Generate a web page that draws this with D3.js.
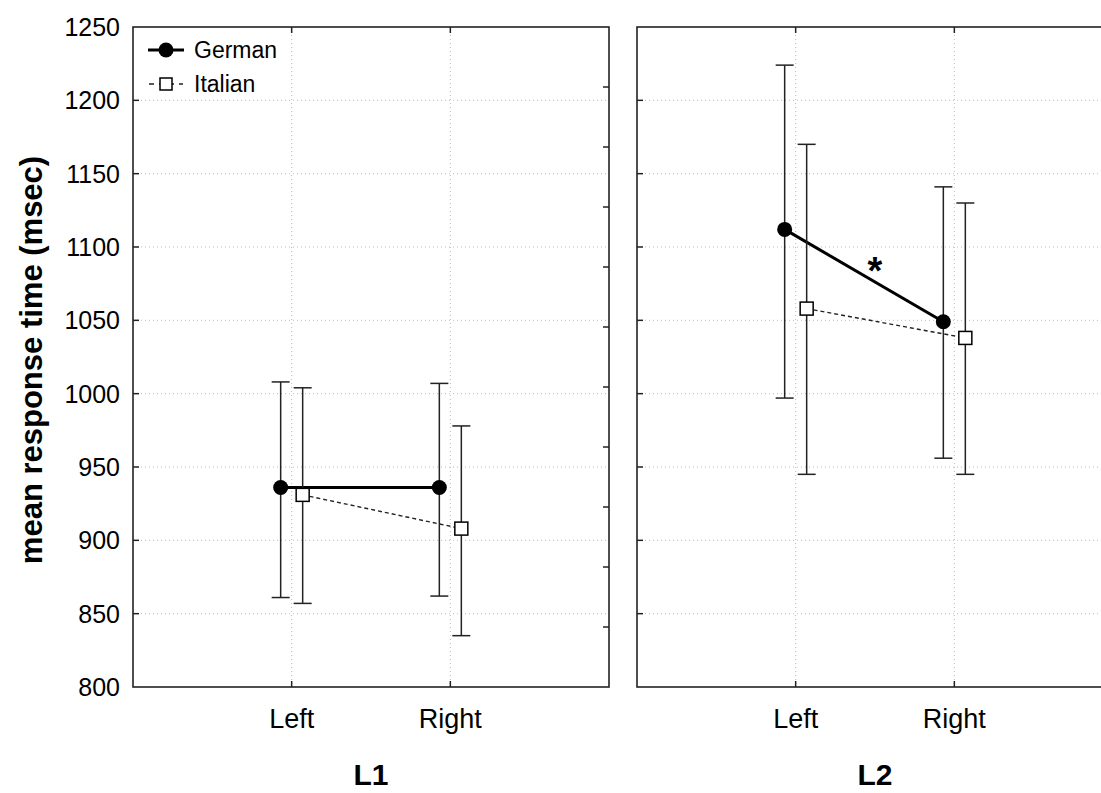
<!DOCTYPE html>
<meta charset="utf-8">
<style>
  body { margin: 0; background: #fff; }
  text { font-family: "Liberation Sans", Arial, sans-serif; }
</style>
<body></body>
<script src="https://cdn.jsdelivr.net/npm/d3@7"></script>
<script>

// data
const panels = ["L1", "L2"];
const sides = ["Left", "Right"];
const groups = ["German", "Italian"];
// mean, upper, lower per panel / side
const germanMean = [[936, 936], [1112, 1049]];
const germanHi   = [[1008, 1007], [1224, 1141]];
const germanLo   = [[861, 862], [997, 956]];
const italianMean = [[931, 908], [1058, 1038]];
const italianHi   = [[1004, 978], [1170, 1130]];
const italianLo   = [[857, 835], [945, 945]];
const yTicks = [800, 850, 900, 950, 1000, 1050, 1100, 1150, 1200, 1250];

const width = 1101, height = 793;
const plotTop = 27, plotBottom = 687;
const panelX = [133, 637];
const panelW = 476;

const svg = d3.select("body").append("svg")
    .attr("width", width)
    .attr("height", height);

const y = d3.scaleLinear().domain([800, 1250]).range([plotBottom, plotTop]);
// odd right-hand tick set on first panel
const yAlt = d3.scaleLinear().domain([0, 11]).range([plotBottom, plotTop]);

const series = [
  {name: groups[0], mean: germanMean, hi: germanHi, lo: germanLo, off: -11},
  {name: groups[1], mean: italianMean, hi: italianHi, lo: italianLo, off: 11}
];

panels.forEach((p, pi) => {
  const x0 = panelX[pi];
  const x = d3.scalePoint().domain(sides).range([x0, x0 + panelW]).padding(1);
  const g = svg.append("g");

  // grid
  g.append("g").selectAll("line").data(yTicks.slice(1, -1)).join("line")
      .attr("x1", x0).attr("x2", x0 + panelW)
      .attr("y1", d => y(d)).attr("y2", d => y(d))
      .attr("stroke", "#bbb").attr("stroke-dasharray", "1,3");
  g.append("g").selectAll("line").data(sides).join("line")
      .attr("x1", d => x(d)).attr("x2", d => x(d))
      .attr("y1", plotTop).attr("y2", plotBottom)
      .attr("stroke", "#bbb").attr("stroke-dasharray", "1,3");

  // frame
  g.append("rect")
      .attr("x", x0).attr("y", plotTop)
      .attr("width", panelW).attr("height", plotBottom - plotTop)
      .attr("fill", "none").attr("stroke", "#222").attr("stroke-width", 1.6);

  // inward ticks on left edge
  g.append("g").selectAll("line").data(yTicks.slice(1, -1)).join("line")
      .attr("x1", x0).attr("x2", x0 + 6)
      .attr("y1", d => y(d)).attr("y2", d => y(d))
      .attr("stroke", "#222").attr("stroke-width", 1.5);

  // top / bottom ticks at categories
  g.append("g").selectAll("line").data(sides).join("line")
      .attr("x1", d => x(d)).attr("x2", d => x(d))
      .attr("y1", plotTop).attr("y2", plotTop + 6)
      .attr("stroke", "#222").attr("stroke-width", 1.5);
  g.append("g").selectAll("line").data(sides).join("line")
      .attr("x1", d => x(d)).attr("x2", d => x(d))
      .attr("y1", plotBottom).attr("y2", plotBottom - 6)
      .attr("stroke", "#222").attr("stroke-width", 1.5);

  if (pi === 0) {
    g.append("g").selectAll("line").data(d3.range(1, 11)).join("line")
        .attr("x1", x0 + panelW).attr("x2", x0 + panelW - 6)
        .attr("y1", d => yAlt(d)).attr("y2", d => yAlt(d))
        .attr("stroke", "#222").attr("stroke-width", 1.5);
  }

  // category labels
  g.append("g").selectAll("text").data(sides).join("text")
      .attr("x", d => x(d)).attr("y", 728)
      .attr("text-anchor", "middle")
      .attr("font-size", 27)
      .text(d => d);

  g.append("text")
      .attr("x", x0 + panelW / 2).attr("y", 785)
      .attr("text-anchor", "middle")
      .attr("font-size", 30).attr("font-weight", "bold")
      .text(p);

  // lines
  series.forEach((s, si) => {
    const pts = sides.map((d, i) => [x(d) + s.off, y(s.mean[pi][i])]);
    g.append("path")
        .attr("d", d3.line()(pts))
        .attr("fill", "none")
        .attr("stroke", si === 0 ? "#000" : "#222")
        .attr("stroke-width", si === 0 ? 3 : 1.4)
        .attr("stroke-dasharray", si === 0 ? null : "4,3");
  });

  // error bars and markers
  series.forEach((s, si) => {
    sides.forEach((d, i) => {
      const cx = x(d) + s.off;
      g.append("line")
          .attr("x1", cx).attr("x2", cx)
          .attr("y1", y(s.hi[pi][i])).attr("y2", y(s.lo[pi][i]))
          .attr("stroke", "#222").attr("stroke-width", 1.5);
      [s.hi[pi][i], s.lo[pi][i]].forEach(v => {
        g.append("line")
            .attr("x1", cx - 9).attr("x2", cx + 9)
            .attr("y1", y(v)).attr("y2", y(v))
            .attr("stroke", "#222").attr("stroke-width", 1.5);
      });
      if (si === 0) {
        g.append("circle")
            .attr("cx", cx).attr("cy", y(s.mean[pi][i])).attr("r", 7.5)
            .attr("fill", "#000");
      } else {
        g.append("rect")
            .attr("x", cx - 6.5).attr("y", y(s.mean[pi][i]) - 6.5)
            .attr("width", 13).attr("height", 13)
            .attr("fill", "#fff").attr("stroke", "#000").attr("stroke-width", 1.5);
      }
    });
  });

  if (pi === 1) {
    g.append("text")
        .attr("x", 875).attr("y", 284)
        .attr("text-anchor", "middle")
        .attr("font-size", 38).attr("font-weight", "bold")
        .text("*");
  }
});

// y tick labels
svg.append("g").selectAll("text").data(yTicks).join("text")
    .attr("x", 120).attr("y", d => y(d))
    .attr("dy", "0.36em")
    .attr("text-anchor", "end")
    .attr("font-size", 25)
    .text(d => d);

svg.append("text")
    .attr("transform", `translate(42,${(plotTop + plotBottom) / 2 + 3}) rotate(-90)`)
    .attr("text-anchor", "middle")
    .attr("font-size", 31).attr("font-weight", "bold")
    .text("mean response time (msec)");

// legend
const leg = svg.append("g");
leg.append("line").attr("x1", 148).attr("x2", 184).attr("y1", 50).attr("y2", 50)
    .attr("stroke", "#000").attr("stroke-width", 3);
leg.append("circle").attr("cx", 166).attr("cy", 50).attr("r", 7.5).attr("fill", "#000");
leg.append("line").attr("x1", 149).attr("x2", 183).attr("y1", 84).attr("y2", 84)
    .attr("stroke", "#222").attr("stroke-width", 1.4).attr("stroke-dasharray", "5,5");
leg.append("rect").attr("x", 160).attr("y", 78).attr("width", 12).attr("height", 12)
    .attr("fill", "#fff").attr("stroke", "#000").attr("stroke-width", 1.5);
leg.selectAll("text.lab").data(groups).join("text")
    .attr("class", "lab")
    .attr("x", 194).attr("y", (d, i) => 50 + i * 34)
    .attr("dy", "0.36em")
    .attr("font-size", 23)
    .text(d => d);

</script>
